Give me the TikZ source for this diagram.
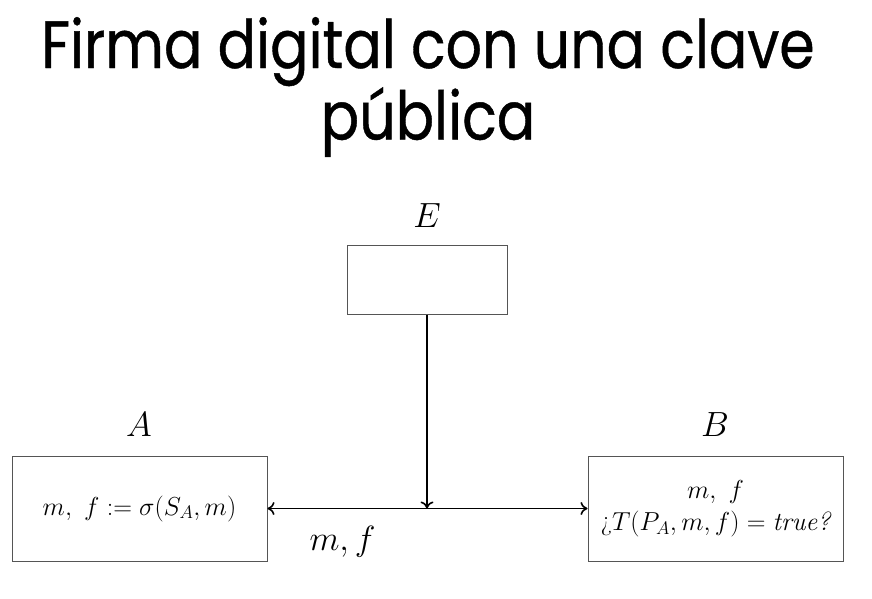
\RequirePackage{fix-cm}
\documentclass[tikz,border=0pt]{standalone}
\usepackage{fontspec}
\newfontfamily\titlefont{Poppins}[FakeStretch=0.85,FakeBold=0.6]
\usetikzlibrary{arrows.meta,positioning}
\usepackage{xcolor}
\definecolor{boxgray}{RGB}{85,85,85}
\tikzset{
    party/.style={
        draw=boxgray,line width=1pt,minimum width=255pt,minimum height=105pt,
        align=center,font=\fontsize{26}{32}\selectfont
    },
    tag/.style={font=\fontsize{35}{40}\selectfont},
    arrow/.style={
        -{To[length=7pt,width=13pt]},line width=1.6pt,draw=black
    }
}

\begin{document}
\begin{tikzpicture}[x=1pt,y=-1pt]
\useasboundingbox (0,0) rectangle (872,599);

\node[align=center,font=\titlefont\fontsize{67}{65}\selectfont]
(title) at (428,87) {Firma digital con una clave\\p\'ublica};

\node[party,minimum width=160pt,minimum height=69pt]
(e) at (427,279.5) {};
\node[tag] (le) at (427,215.5) {$E$};

\node[party] (a) at (139.5,508.5) {$m,\ f := \sigma(S_A,m)$};
\node[tag] (la) at (139,424.5) {$A$};

\node[party] (b) at (715.5,508.5) {$m,\ f$\\ \mbox{¿}$T(P_A,m,f) = \textit{true?}$};
\node[tag] (lb) at (715,424.5) {$B$};

\coordinate (j) at (e |- a);

\draw[arrow,{To[length=7pt,width=13pt]}-{To[length=7pt,width=13pt]}](a)--(b);
\draw[arrow](e)--(j);

\node[tag,anchor=base] (mf) at (342.5,550) {$m, f$};

\end{tikzpicture}
\end{document}
